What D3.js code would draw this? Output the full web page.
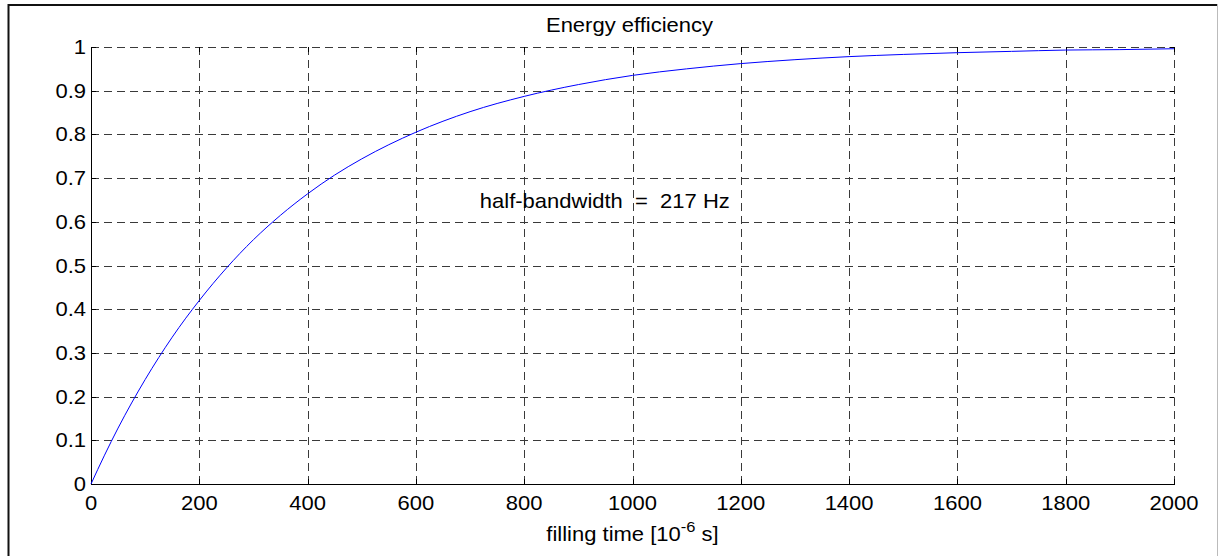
<!DOCTYPE html>
<html>
<head>
<meta charset="utf-8">
<script src="https://cdn.jsdelivr.net/npm/d3@7"></script>
<style>
  html, body { margin: 0; padding: 0; background: #fff; }
  svg { display: block; }
  text { font-family: "Liberation Sans", Arial, sans-serif; fill: #000; white-space: pre; }
</style>
</head>
<body>
<svg id="chart" width="1220" height="556"></svg>
<script>
// ---- data ----
const fillTime = [0, 25, 50, 100, 150, 200, 250, 300, 350, 400, 450, 500, 600, 700, 800, 900, 1000, 1100, 1200, 1300, 1400, 1500, 1600, 1700, 1800, 1900, 2000];
const efficiency = [0, 0.066, 0.128, 0.239, 0.336, 0.420, 0.494, 0.559, 0.615, 0.664, 0.707, 0.744, 0.805, 0.852, 0.887, 0.914, 0.935, 0.950, 0.962, 0.971, 0.978, 0.983, 0.987, 0.990, 0.993, 0.994, 0.996];
const xTicks = [0, 200, 400, 600, 800, 1000, 1200, 1400, 1600, 1800, 2000];
const yTicks = [0, 0.1, 0.2, 0.3, 0.4, 0.5, 0.6, 0.7, 0.8, 0.9, 1];
const titleText = "Energy efficiency";
const annotationText = "half-bandwidth  =  217 Hz";
const annotationPos = [718, 0.634];

// ---- layout ----
const W = 1220, H = 556;
const plot = { left: 91, right: 1174, top: 47, bottom: 484 };
const FS = 20, SX = 1.1;

const svg = d3.select("#chart");
svg.append("rect").attr("width", W).attr("height", H).attr("fill", "#fff");

// outer frame
svg.append("line").attr("x1", 8.5).attr("x2", 8.5).attr("y1", 4).attr("y2", H).attr("stroke", "#111").attr("stroke-width", 2);
svg.append("line").attr("x1", 8).attr("x2", 1218).attr("y1", 5).attr("y2", 5).attr("stroke", "#111").attr("stroke-width", 2);
svg.append("line").attr("x1", 1217.5).attr("x2", 1217.5).attr("y1", 4).attr("y2", H).attr("stroke", "#bbb").attr("stroke-width", 1);

const x = d3.scaleLinear().domain([0, 2000]).range([plot.left, plot.right]);
const y = d3.scaleLinear().domain([0, 1]).range([plot.bottom, plot.top]);

function txt(g, xp, yp, s, anchor) {
  return g.append("text")
    .attr("transform", `translate(${xp},${yp}) scale(${SX},1)`)
    .attr("text-anchor", anchor || "middle")
    .attr("font-size", FS)
    .attr("xml:space", "preserve")
    .text(s);
}

// grid
const grid = svg.append("g");
grid.selectAll("line.gx").data(xTicks.filter(d => d > 0)).enter().append("line")
  .attr("x1", d => Math.round(x(d)) + 0.5).attr("x2", d => Math.round(x(d)) + 0.5)
  .attr("y1", plot.bottom).attr("y2", plot.top)
  .attr("stroke", "#3a3a3a").attr("stroke-width", 1).attr("stroke-dasharray", "8,5");
grid.selectAll("line.gy").data(yTicks.filter(d => d > 0)).enter().append("line")
  .attr("y1", d => Math.round(y(d)) + 0.5).attr("y2", d => Math.round(y(d)) + 0.5)
  .attr("x1", plot.left).attr("x2", plot.right)
  .attr("stroke", "#3a3a3a").attr("stroke-width", 1).attr("stroke-dasharray", "8,5");

// axes lines (left & bottom solid)
svg.append("line").attr("x1", plot.left + 0.5).attr("x2", plot.left + 0.5).attr("y1", plot.top).attr("y2", plot.bottom + 0.5).attr("stroke", "#000");
svg.append("line").attr("x1", plot.left).attr("x2", plot.right + 1).attr("y1", plot.bottom + 0.5).attr("y2", plot.bottom + 0.5).attr("stroke", "#000");

// tick marks (inward, all four sides)
const tl = 5;
const ticks = svg.append("g").attr("stroke", "#000").attr("stroke-width", 1);
xTicks.forEach(d => {
  const xp = Math.round(x(d)) + 0.5;
  ticks.append("line").attr("x1", xp).attr("x2", xp).attr("y1", plot.bottom).attr("y2", plot.bottom - tl);
  ticks.append("line").attr("x1", xp).attr("x2", xp).attr("y1", plot.top).attr("y2", plot.top + tl);
});
yTicks.forEach(d => {
  const yp = Math.round(y(d)) + 0.5;
  ticks.append("line").attr("y1", yp).attr("y2", yp).attr("x1", plot.left).attr("x2", plot.left + tl);
  ticks.append("line").attr("y1", yp).attr("y2", yp).attr("x1", plot.right + 0.5).attr("x2", plot.right + 0.5 - tl);
});

// tick labels
const lab = svg.append("g");
xTicks.forEach(d => txt(lab, x(d), plot.bottom + 26, String(d), "middle"));
yTicks.forEach(d => txt(lab, plot.left - 5, y(d) + 7, String(d), "end"));

// curve
const line = d3.line()
  .x((d, i) => x(fillTime[i]))
  .y((d, i) => y(efficiency[i]))
  .curve(d3.curveMonotoneX);
svg.append("path").datum(efficiency).attr("d", line)
  .attr("fill", "none").attr("stroke", "#0000ff").attr("stroke-width", 1);

// title
txt(svg, (plot.left + plot.right) / 2 - 3, 32, titleText, "middle");

// annotation
txt(svg, x(annotationPos[0]), y(annotationPos[1]) + 1, annotationText, "start");

// x-axis label with superscript
const xl = svg.append("text")
  .attr("transform", `translate(${(plot.left + plot.right) / 2},541) scale(${SX},1)`)
  .attr("text-anchor", "middle").attr("font-size", FS);
xl.append("tspan").text("filling time [10");
xl.append("tspan").attr("dy", -9).attr("font-size", 15).text("-6");
xl.append("tspan").attr("dy", 9).text(" s]");
</script>
</body>
</html>
